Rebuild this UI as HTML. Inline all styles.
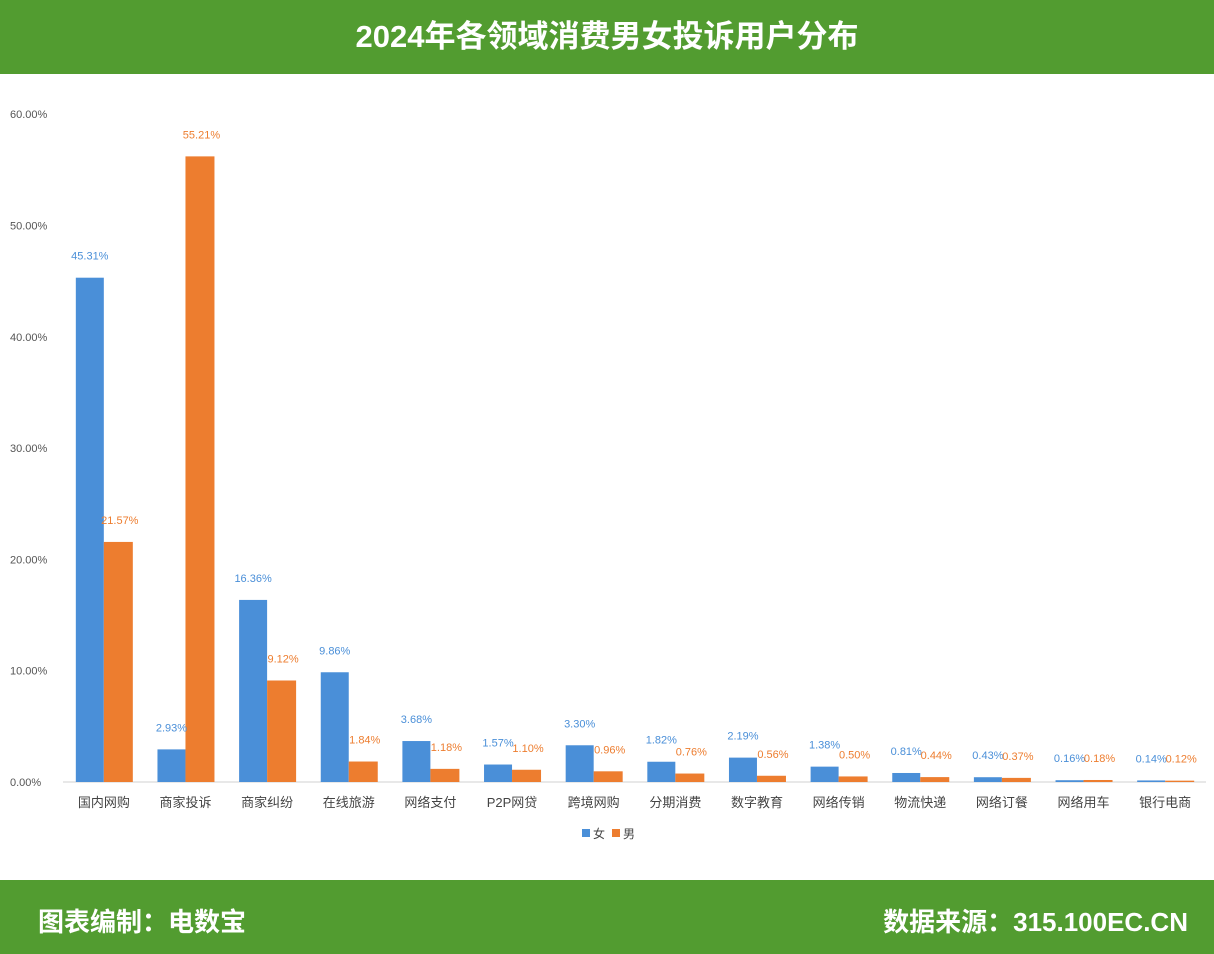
<!DOCTYPE html>
<html><head><meta charset="utf-8">
<style>
body{margin:0;width:1214px;height:954px;overflow:hidden;background:#fff;font-family:"Liberation Sans","Noto Sans CJK SC",sans-serif;}
#hdr{position:absolute;left:0;top:0;width:1214px;height:74px;background:#529c30;color:#fff;font-size:31px;font-weight:bold;text-align:center;line-height:74px;}
#ftr{position:absolute;left:0;top:880px;width:1214px;height:74px;background:#529c30;color:#fff;font-size:26px;font-weight:bold;}
#ftr .l{position:absolute;left:38px;top:22px}
#ftr .r{position:absolute;right:26px;top:22px}
svg{position:absolute;left:0;top:74px}
</style></head><body>
<div id="hdr">2024年各领域消费男女投诉用户分布</div>
<svg id="chart" width="1214" height="806"></svg>
<div id="ftr"><span class="l">图表编制：电数宝</span><span class="r">数据来源：315.100EC.CN</span></div>
<script>
const categories=["国内网购","商家投诉","商家纠纷","在线旅游","网络支付","P2P网贷","跨境网购","分期消费","数字教育","网络传销","物流快递","网络订餐","网络用车","银行电商"];
const femaleValues=[45.31,2.93,16.36,9.86,3.68,1.57,3.30,1.82,2.19,1.38,0.81,0.43,0.16,0.14];
const maleValues=[21.57,56.21,9.12,1.84,1.18,1.10,0.96,0.76,0.56,0.50,0.44,0.37,0.18,0.12];
const femaleLabels=["45.31%","2.93%","16.36%","9.86%","3.68%","1.57%","3.30%","1.82%","2.19%","1.38%","0.81%","0.43%","0.16%","0.14%"];
const maleLabels=["21.57%","55.21%","9.12%","1.84%","1.18%","1.10%","0.96%","0.76%","0.56%","0.50%","0.44%","0.37%","0.18%","0.12%"];
const yTicks=[0,10,20,30,40,50,60];
const yTickLabels=["0.00%","10.00%","20.00%","30.00%","40.00%","50.00%","60.00%"];
const NS="http://www.w3.org/2000/svg",svg=document.getElementById('chart');
const x0=63,x1=1206,yBase=708,pxPer=11.13;
const bw=(x1-x0)/categories.length;
const y=v=>yBase-v*pxPer;
const xc=i=>x0+bw*(i+0.5);
function mk(t,a,txt){const e=document.createElementNS(NS,t);for(const k in a)e.setAttribute(k,a[k]);if(txt!=null)e.textContent=txt;svg.appendChild(e);return e;}
yTicks.forEach((t,i)=>{const e=mk('text',{x:10,y:y(t)+4,'font-size':11,fill:'#555'},yTickLabels[i]);

});
const ax=mk('line',{x1:x0,x2:x1,y1:yBase,y2:yBase,stroke:'#d0d0d0','stroke-width':1});


categories.forEach((c,i)=>{
 const cx=xc(i);
 const bf=mk('rect',{x:cx-28,y:y(femaleValues[i]),width:28,height:femaleValues[i]*pxPer,fill:'#4a8fd8'});
 
 
 const bm=mk('rect',{x:cx,y:y(maleValues[i]),width:29,height:maleValues[i]*pxPer,fill:'#ed7d2f'});
 
 
 const lf=mk('text',{x:cx-14,y:y(femaleValues[i])-18,'font-size':11,fill:'#4a8fd8','text-anchor':'middle'},femaleLabels[i]);
 
 
 const lm=mk('text',{x:cx+16,y:y(maleValues[i])-18,'font-size':11,fill:'#ed7d2f','text-anchor':'middle'},maleLabels[i]);
 
 
 const xl=mk('text',{x:cx,y:yBase+25,'font-size':13,fill:'#444','text-anchor':'middle'},c);
 
 
});
const g=[[582,'#4a8fd8','女'],[612,'#ed7d2f','男']];
g.forEach(([lx,col,t])=>{
 const r=mk('rect',{x:lx,y:755,width:8,height:8,fill:col});
 
 
 const tx=mk('text',{x:lx+11,y:764,'font-size':12,fill:'#444'},t);
 
 
});
</script>
</body></html>
